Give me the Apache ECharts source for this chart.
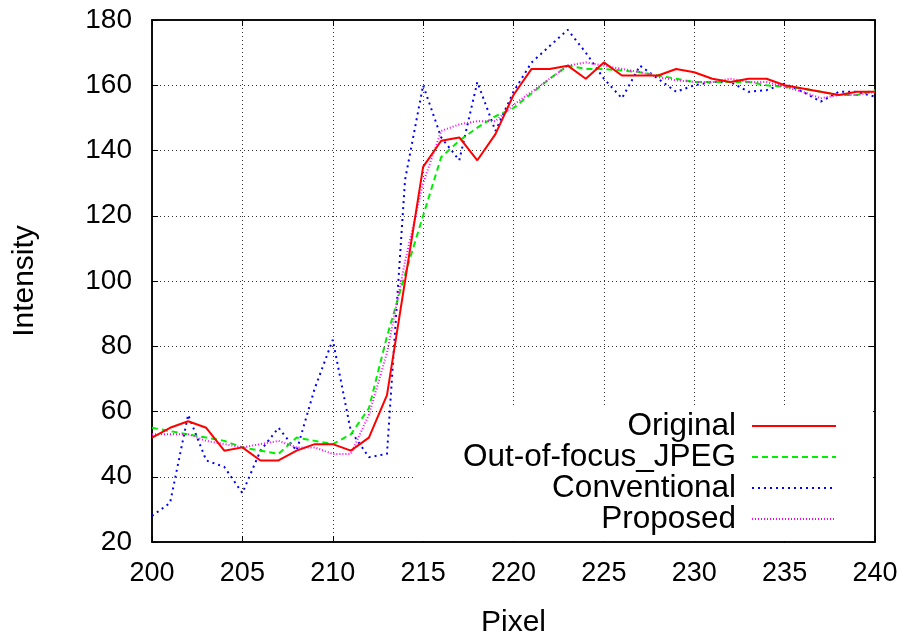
<!DOCTYPE html>
<html>
<head>
<meta charset="utf-8">
<script src="https://cdn.jsdelivr.net/npm/echarts@6/dist/echarts.min.js"></script>
<style>
  html, body { margin: 0; padding: 0; background: #fff; }
  #chart { width: 910px; height: 640px; }
</style>
</head>
<body>
<div id="chart"></div>
<script>
// Pixel positions along the scan line
const pixels = [200,201,202,203,204,205,206,207,208,209,210,211,212,213,214,215,216,217,218,219,220,
                221,222,223,224,225,226,227,228,229,230,231,232,233,234,235,236,237,238,239,240];

// Intensity profiles
const original = [52,55,57,55,48,49,45,45,48,50,50,48,52,65,100,135,143,144,137,145,157,
                  165,165,166,162,167,163,163,163,165,164,162,161,162,162,160,159,158,157,158,158];
const outOfFocusJpeg = [55,54,53,52,51,49,48,47,52,51,50,53,61,83,102,120,138,143,147,150.5,153,
                        157.5,162,166,165,165,164.5,164,163,162,161,161,161,161,160,159.5,159,158,157,157,158.5];
const conventional = [28,32,59,45,43,35,48,55,48,67,82,54,46,47,131,160,144,137,161,146,158,
                      167,172,177,170,162,156,166,162,158,160,161,161,158,158.5,160.5,158,155,158,158,156.5];
const proposed = [53,53,53,51,50,49,50,51,49,49,47,47,59,78,106,130,146,148,149,149,154,
                  158,162,166,167,166,165,164,162.5,161.5,161,161,162,161,161,159.5,158,156,157,157,158];

const seriesNames = ['Original', 'Out-of-focus_JPEG', 'Conventional', 'Proposed'];

const xTicks = { min: 200, max: 240, step: 5 };
const yTicks = { min: 20, max: 180, step: 20 };

const pairs = vals => pixels.map((p, i) => [p, vals[i]]);

const chart = echarts.init(document.getElementById('chart'), null, { renderer: 'canvas' });

const font = 'Liberation Sans, Arial, Helvetica, sans-serif';
const gridLine = { show: true, lineStyle: { color: '#333', width: 1, type: [1, 3] } };
const tick = { show: true, inside: true, length: 6, lineStyle: { color: '#000' } };
const frame = { show: true, lineStyle: { color: '#000', width: 1.5 } };

chart.setOption({
  animation: false,
  backgroundColor: '#fff',
  grid: {
    left: 152, right: 35, top: 20, bottom: 98, outerBoundsMode: 'none', containLabel: false,
    show: true, borderColor: '#000', borderWidth: 1.5, backgroundColor: 'transparent'
  },
  xAxis: [{
    type: 'value', min: xTicks.min, max: xTicks.max, interval: xTicks.step,
    name: 'Pixel', nameLocation: 'middle', nameGap: 66,
    nameTextStyle: { fontFamily: font, fontSize: 30, color: '#000' },
    axisLine: frame, axisTick: tick,
    axisLabel: { fontFamily: font, fontSize: 27, color: '#000', margin: 18 },
    splitLine: gridLine
  }, {
    type: 'value', position: 'top', min: xTicks.min, max: xTicks.max, interval: xTicks.step,
    axisLine: frame, axisTick: tick,
    axisLabel: { show: false }, splitLine: { show: false }
  }],
  yAxis: [{
    type: 'value', min: yTicks.min, max: yTicks.max, interval: yTicks.step,
    name: 'Intensity', nameLocation: 'middle', nameGap: 112, nameRotate: 90,
    nameTextStyle: { fontFamily: font, fontSize: 30, color: '#000' },
    axisLine: frame, axisTick: tick,
    axisLabel: { fontFamily: font, fontSize: 28, color: '#000', margin: 20 },
    splitLine: gridLine
  }, {
    type: 'value', position: 'right', min: yTicks.min, max: yTicks.max, interval: yTicks.step,
    axisLine: frame, axisTick: tick,
    axisLabel: { show: false }, splitLine: { show: false }
  }],
  // key box keeps the grid out from behind the legend
  graphic: [{
    type: 'rect', z: 1, silent: true,
    shape: { x: 413, y: 407, width: 460, height: 134 },
    style: { fill: '#fff' }
  }],
  legend: {
    orient: 'vertical', right: 68, top: 405, align: 'right',
    itemWidth: 84, itemHeight: 14, itemGap: -1,
    itemStyle: { opacity: 0 },
    lineStyle: { opacity: 1 },
    textStyle: { fontFamily: font, fontSize: 31.5, color: '#000', lineHeight: 30, padding: [0, 11, 0, 0] },
    data: seriesNames
  },
  series: [
    { name: seriesNames[0], type: 'line', data: pairs(original), symbol: 'none', z: 5,
      color: '#ff0000', lineStyle: { color: '#ff0000', width: 2 } },
    { name: seriesNames[1], type: 'line', data: pairs(outOfFocusJpeg), symbol: 'none', z: 4,
      color: '#00ee00', lineStyle: { color: '#00ee00', width: 2, type: [6, 4] } },
    { name: seriesNames[2], type: 'line', data: pairs(conventional), symbol: 'none', z: 3,
      color: '#0000ff', lineStyle: { color: '#0000ff', width: 2, type: [2, 4] } },
    { name: seriesNames[3], type: 'line', data: pairs(proposed), symbol: 'none', z: 4,
      color: '#ff00ff', lineStyle: { color: '#ff00ff', width: 2, type: [1, 2] } }
  ]
});
</script>
</body>
</html>
